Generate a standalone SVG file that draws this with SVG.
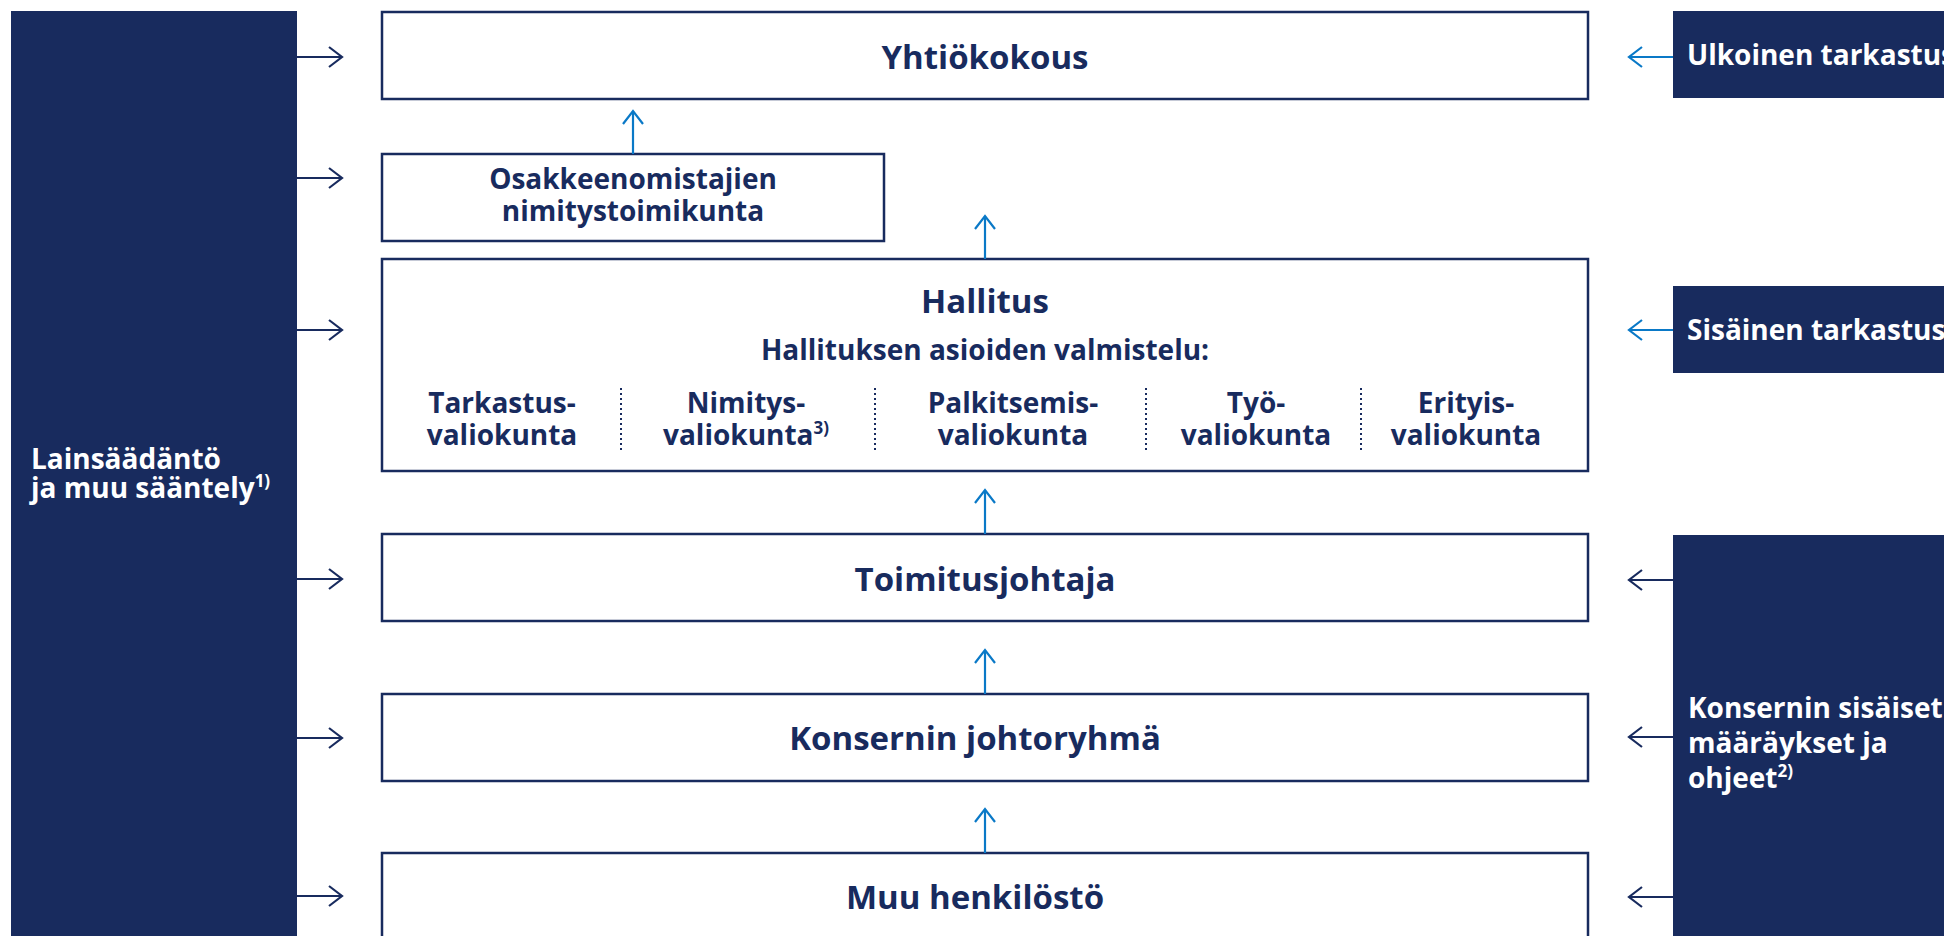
<svg xmlns="http://www.w3.org/2000/svg" width="1944" height="936" viewBox="0 0 1944 936">
  <defs>
    <style>
      .box { fill: #ffffff; stroke: #182b5e; stroke-width: 2.5; }
      .panel { fill: #182b5e; }
      .t { font-family: "Open Sans", "Liberation Sans", sans-serif; font-weight: 700; fill: #182b5e; }
      .big { font-size: 33px; text-anchor: middle; }
      .mid { font-size: 28px; text-anchor: middle; }
      .w { font-family: "Open Sans", "Liberation Sans", sans-serif; font-weight: 700; fill: #ffffff; font-size: 28px; }
      .sup { font-size: 17px; }
      .sep { stroke: #182b5e; stroke-width: 2; stroke-dasharray: 2 3; fill: none; }
      .cn { stroke: #182b5e; stroke-width: 2.2; fill: none; }
      .cb { stroke: #0a79c7; stroke-width: 2.2; fill: none; }
    </style>
    <marker id="ahn" viewBox="-15 -12 17 24" refX="0" refY="0" markerWidth="17" markerHeight="24" markerUnits="userSpaceOnUse" orient="auto">
      <path d="M-13,-10 L0,0 L-13,10" fill="none" stroke="#182b5e" stroke-width="2.2"/>
    </marker>
    <marker id="ahb" viewBox="-15 -12 17 24" refX="0" refY="0" markerWidth="17" markerHeight="24" markerUnits="userSpaceOnUse" orient="auto">
      <path d="M-13,-10 L0,0 L-13,10" fill="none" stroke="#0a79c7" stroke-width="2.2"/>
    </marker>
  </defs>
  <rect width="1944" height="936" fill="#ffffff"/>

  <g id="lainsaadanto">
    <rect class="panel" x="11" y="11" width="286" height="935"/>
    <text class="w" x="31" y="469">Lainsäädäntö</text>
    <text class="w" x="31" y="498">ja muu sääntely<tspan class="sup" dy="-11">1)</tspan></text>
  </g>

  <g id="yhtiokokous">
    <rect class="box" x="382" y="12" width="1206" height="87"/>
    <text class="t big" x="985" y="69">Yhtiökokous</text>
  </g>

  <g id="nimitystoimikunta">
    <rect class="box" x="382" y="154" width="502" height="87"/>
    <text class="t mid" x="633" y="189">Osakkeenomistajien</text>
    <text class="t mid" x="633" y="221">nimitystoimikunta</text>
  </g>

  <g id="hallitus">
    <rect class="box" x="382" y="259" width="1206" height="212"/>
    <text class="t big" x="985" y="313">Hallitus</text>
    <text class="t mid" x="985" y="360">Hallituksen asioiden valmistelu:</text>
    <text class="t mid" x="502" y="413">Tarkastus-</text>
    <text class="t mid" x="502" y="445">valiokunta</text>
    <text class="t mid" x="746" y="413">Nimitys-</text>
    <text class="t mid" x="746" y="445">valiokunta<tspan class="sup" dy="-11">3)</tspan></text>
    <text class="t mid" x="1013" y="413">Palkitsemis-</text>
    <text class="t mid" x="1013" y="445">valiokunta</text>
    <text class="t mid" x="1256" y="413">Työ-</text>
    <text class="t mid" x="1256" y="445">valiokunta</text>
    <text class="t mid" x="1466" y="413">Erityis-</text>
    <text class="t mid" x="1466" y="445">valiokunta</text>
    <line class="sep" x1="621" y1="388" x2="621" y2="451"/>
    <line class="sep" x1="875" y1="388" x2="875" y2="451"/>
    <line class="sep" x1="1146" y1="388" x2="1146" y2="451"/>
    <line class="sep" x1="1361" y1="388" x2="1361" y2="451"/>
  </g>

  <g id="toimitusjohtaja">
    <rect class="box" x="382" y="534" width="1206" height="87"/>
    <text class="t big" x="985" y="591">Toimitusjohtaja</text>
  </g>

  <g id="johtoryhma">
    <rect class="box" x="382" y="694" width="1206" height="87"/>
    <text class="t big" x="975" y="750">Konsernin johtoryhmä</text>
  </g>

  <g id="henkilosto">
    <rect class="box" x="382" y="853" width="1206" height="110"/>
    <text class="t big" x="975" y="909">Muu henkilöstö</text>
  </g>

  <g id="ulkoinen">
    <rect class="panel" x="1673" y="11" width="290" height="87"/>
    <text class="w" x="1687" y="65">Ulkoinen tarkastus</text>
  </g>

  <g id="sisainen">
    <rect class="panel" x="1673" y="286" width="290" height="87"/>
    <text class="w" x="1687" y="340">Sisäinen tarkastus</text>
  </g>

  <g id="ohjeet">
    <rect class="panel" x="1673" y="535" width="290" height="411"/>
    <text class="w" x="1688" y="718">Konsernin sisäiset</text>
    <text class="w" x="1688" y="753">määräykset ja</text>
    <text class="w" x="1688" y="788">ohjeet<tspan class="sup" dy="-11">2)</tspan></text>
  </g>

  <g id="connectors">
    <line class="cn" x1="297" y1="57" x2="342" y2="57" marker-end="url(#ahn)"/>
    <line class="cn" x1="297" y1="178" x2="342" y2="178" marker-end="url(#ahn)"/>
    <line class="cn" x1="297" y1="330" x2="342" y2="330" marker-end="url(#ahn)"/>
    <line class="cn" x1="297" y1="579" x2="342" y2="579" marker-end="url(#ahn)"/>
    <line class="cn" x1="297" y1="738" x2="342" y2="738" marker-end="url(#ahn)"/>
    <line class="cn" x1="297" y1="896" x2="342" y2="896" marker-end="url(#ahn)"/>

    <line class="cb" x1="1673" y1="57" x2="1629" y2="57" marker-end="url(#ahb)"/>
    <line class="cb" x1="1673" y1="330" x2="1629" y2="330" marker-end="url(#ahb)"/>
    <line class="cn" x1="1673" y1="580" x2="1629" y2="580" marker-end="url(#ahn)"/>
    <line class="cn" x1="1673" y1="737" x2="1629" y2="737" marker-end="url(#ahn)"/>
    <line class="cn" x1="1673" y1="897" x2="1629" y2="897" marker-end="url(#ahn)"/>

    <line class="cb" x1="633" y1="154" x2="633" y2="111" marker-end="url(#ahb)"/>
    <line class="cb" x1="985" y1="259" x2="985" y2="216" marker-end="url(#ahb)"/>
    <line class="cb" x1="985" y1="534" x2="985" y2="490" marker-end="url(#ahb)"/>
    <line class="cb" x1="985" y1="694" x2="985" y2="650" marker-end="url(#ahb)"/>
    <line class="cb" x1="985" y1="853" x2="985" y2="809" marker-end="url(#ahb)"/>
  </g>
</svg>
